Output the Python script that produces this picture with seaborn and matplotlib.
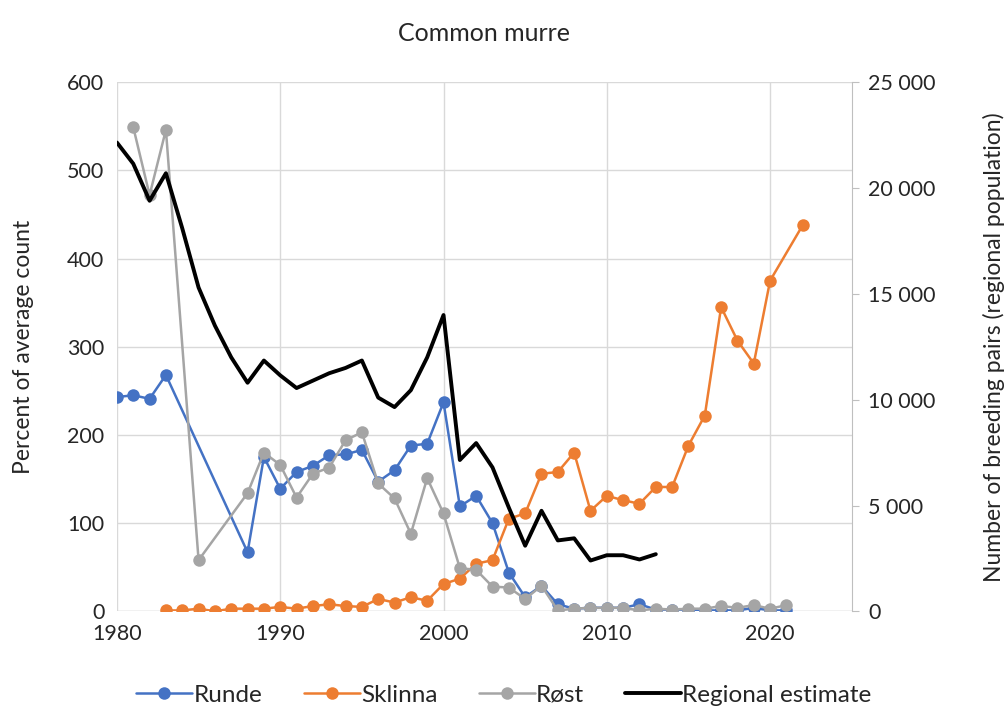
import numpy as np
import pandas as pd
import seaborn as sns
import matplotlib.pyplot as plt
from matplotlib.ticker import FuncFormatter
from matplotlib.lines import Line2D

# Runde (percent of average count)
runde_years = [1980, 1981, 1982, 1983, 1988, 1989, 1990, 1991, 1992, 1993, 1994, 1995,
               1996, 1997, 1998, 1999, 2000, 2001, 2002, 2003, 2004, 2005, 2006, 2007,
               2008, 2009, 2010, 2011, 2012, 2013, 2014, 2015, 2016, 2017, 2018, 2019,
               2020, 2021]
runde_vals = [243, 245, 241, 268, 67, 175, 139, 158, 165, 177, 178, 183,
              147, 160, 188, 190, 237, 119, 131, 100, 44, 16, 29, 8,
              3, 4, 4, 4, 8, 2, 2, 2, 1, 1, 1, 4,
              1, 1]

# Sklinna
sklinna_years = [1983, 1984, 1985, 1986, 1987, 1988, 1989, 1990, 1991, 1992, 1993, 1994,
                 1995, 1996, 1997, 1998, 1999, 2000, 2001, 2002, 2003, 2004, 2005, 2006,
                 2007, 2008, 2009, 2010, 2011, 2012, 2013, 2014, 2015, 2016, 2017, 2018,
                 2019, 2020, 2022]
sklinna_vals = [1, 1, 3, 0, 3, 3, 3, 5, 3, 6, 8, 6,
                5, 14, 10, 16, 12, 31, 37, 54, 58, 105, 111, 156,
                158, 180, 114, 131, 126, 122, 141, 141, 188, 222, 345, 307,
                281, 375, 438]

# Røst
rost_years = [1981, 1982, 1983, 1985, 1988, 1989, 1990, 1991, 1992, 1993, 1994, 1995,
              1996, 1997, 1998, 1999, 2000, 2001, 2002, 2003, 2004, 2005, 2006, 2007,
              2008, 2009, 2010, 2011, 2012, 2013, 2014, 2015, 2016, 2017, 2018, 2019,
              2020, 2021]
rost_vals = [549, 472, 546, 58, 134, 180, 166, 129, 156, 163, 194, 203,
             145, 128, 88, 151, 111, 49, 47, 28, 27, 14, 29, 1,
             3, 4, 4, 4, 1, 3, 2, 3, 3, 6, 4, 7,
             3, 7]

# Regional estimate (breeding pairs)
reg_years = list(range(1980, 2014))
reg_vals = [22150, 21150, 19400, 20700, 18100, 15300, 13500, 12000, 10800, 11850,
            11150, 10550, 10900, 11250, 11500, 11850, 10100, 9650, 10450, 12000,
            14000, 7150, 7950, 6800, 4900, 3100, 4750, 3350, 3450, 2400,
            2650, 2650, 2450, 2700]

df = pd.concat([
    pd.DataFrame({"year": runde_years, "value": runde_vals, "site": "Runde"}),
    pd.DataFrame({"year": sklinna_years, "value": sklinna_vals, "site": "Sklinna"}),
    pd.DataFrame({"year": rost_years, "value": rost_vals, "site": "Røst"}),
])
reg = pd.DataFrame({"year": reg_years, "pairs": reg_vals})

colors = {"Runde": "#4472C4", "Sklinna": "#ED7D31", "Røst": "#A5A5A5"}

sns.set_style("white")
plt.rcParams["font.family"] = ["Lato", "DejaVu Sans"]

fig, ax = plt.subplots(figsize=(10.08, 7.15), dpi=100)
fig.subplots_adjust(left=0.116, right=0.845, top=0.885, bottom=0.145)

sns.lineplot(data=df, x="year", y="value", hue="site", palette=colors,
             marker="o", markersize=9, markeredgewidth=0, linewidth=1.8,
             sort=False, ax=ax, legend=False, zorder=3)

ax2 = ax.twinx()
sns.lineplot(data=reg, x="year", y="pairs", color="black", linewidth=2.8, ax=ax2)

ax.set_xlim(1980, 2025)
ax.set_ylim(0, 600)
ax2.set_ylim(0, 25000)
ax.set_xticks([1980, 1990, 2000, 2010, 2020])
ax.set_yticks(range(0, 601, 100))
ax2.set_yticks(range(0, 25001, 5000))
ax2.yaxis.set_major_formatter(FuncFormatter(lambda v, p: f"{int(v):,}".replace(",", " ")))

ax.grid(True, color="#d9d9d9", linewidth=1)
ax2.grid(False)
for s in ["left", "top", "bottom", "right"]:
    ax.spines[s].set_visible(False)
for s in ["left", "top", "bottom"]:
    ax2.spines[s].set_visible(False)
ax2.spines["right"].set_color("#bfbfbf")
ax.axhline(0, color="#d9d9d9", linewidth=1, zorder=0)

ax.tick_params(axis="both", length=0, labelsize=15.5, colors="#262626", pad=9)
ax2.tick_params(axis="y", length=5, color="#bfbfbf", labelsize=15.5, labelcolor="#262626", pad=7)

ax.set_xlabel("")
ax.set_ylabel("Percent of average count", fontsize=16.5, color="#262626", labelpad=24)
ax2.set_xlabel("")
ax2.set_ylabel("Number of breeding pairs (regional population)", fontsize=16.5,
               color="#262626", labelpad=34)
ax.set_title("Common murre", fontsize=18, color="#262626", pad=30)

handles = [Line2D([], [], color=colors[k], marker="o", markersize=9, markeredgewidth=0, linewidth=1.8)
           for k in ["Runde", "Sklinna", "Røst"]]
handles.append(Line2D([], [], color="black", linewidth=2.8))
fig.legend(handles, ["Runde", "Sklinna", "Røst", "Regional estimate"], loc="lower center",
           ncol=4, frameon=False, fontsize=17.5, bbox_to_anchor=(0.5, -0.018),
           handlelength=2.3, handletextpad=0.05, columnspacing=1.7)

fig.savefig("out.png", dpi=100)
